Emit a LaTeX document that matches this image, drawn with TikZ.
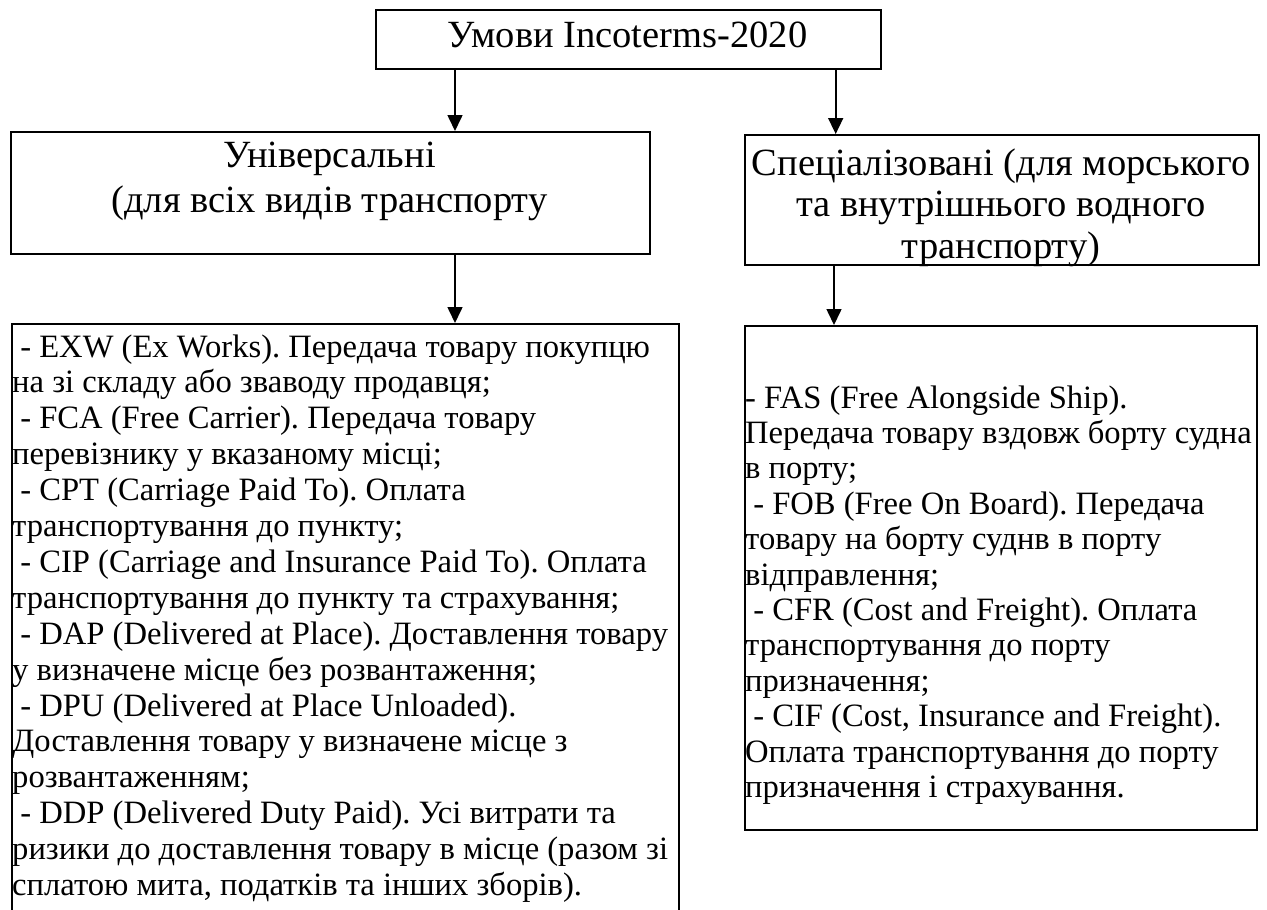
\documentclass[tikz,border=0pt]{standalone}
\usepackage{fontspec}
\setmainfont{Liberation Serif}
\usetikzlibrary{arrows.meta}
\frenchspacing
\newcommand\lsp{\hspace*{0.25em}}
\tikzset{
  box/.style={draw, line width=1.7pt, inner sep=0, anchor=north west},
  head/.style={inner sep=0, anchor=base, font=\fontsize{38.5}{44}\selectfont},
  entry/.style={inner sep=0, anchor=base west, font=\fontsize{32.6}{36}\selectfont},
  arr/.style={line width=1.6pt, -{Triangle[length=16pt, width=15pt]}}
}
\begin{document}
\begin{tikzpicture}[x=1pt, y=-1pt]
  \useasboundingbox (0,0) rectangle (1267,910);
  \fill[white] (0,0) rectangle (1267,910);
  % boxes
  \node[box, minimum width=505pt, minimum height=59pt] (terms) at (375,9) {};
  \node[box, minimum width=639pt, minimum height=122pt] (uni) at (10,131) {};
  \node[box, minimum width=514pt, minimum height=130pt] (spec) at (744,134) {};
  \node[box, minimum width=667pt, minimum height=600pt] (lst) at (11,323) {};
  \node[box, minimum width=512pt, minimum height=504pt] (sea) at (744,325) {};
  % titles
  \node[head] (termsT) at (627.5,47) {Умови Incoterms-2020};
  \node[head] (uniA) at (329.5,167) {Універсальні};
  \node[head] (uniB) at (329.5,212) {(для всіх видів транспорту};
  \node[head] (specA) at (1001,175) {Спеціалізовані (для морського};
  \node[head] (specB) at (1001,216.5) {та внутрішнього водного};
  \node[head] (specC) at (1001,258) {транспорту)};
  % arrows
  \draw[arr] ([xshift=80pt]terms.south west) -- ([xshift=80pt]terms.south west |- uni.north);
  \draw[arr] ([xshift=-46pt]terms.south east) -- ([xshift=-46pt]terms.south east |- spec.north);
  \draw[arr] ([xshift=445pt]uni.south west) -- ([xshift=445pt]uni.south west |- lst.north);
  \draw[arr] ([xshift=90pt]spec.south west) -- ([xshift=90pt]spec.south west |- sea.north);
  % all modes of transport
  \foreach \itm [count=\k from 0] in {
      {\lsp- EXW (Ex Works). Передача товару покупцю},
      {на зі складу або зваводу продавця;},
      {\lsp- FCA (Free Carrier). Передача товару},
      {перевізнику у вказаному місці;},
      {\lsp- CPT (Carriage Paid To). Оплата},
      {транспортування до пункту;},
      {\lsp- CIP (Carriage and Insurance Paid To). Оплата},
      {транспортування до пункту та страхування;},
      {\lsp- DAP (Delivered at Place). Доставлення товару},
      {у визначене місце без розвантаження;},
      {\lsp- DPU (Delivered at Place Unloaded).},
      {Доставлення товару у визначене місце з},
      {розвантаженням;},
      {\lsp- DDP (Delivered Duty Paid). Усі витрати та},
      {ризики до доставлення товару в місце (разом зі},
      {сплатою мита, податків та інших зборів).}}
    \node[entry] (lst\k) at (12,{357+\k*35.9}) {\itm};
  % sea and inland waterway
  \foreach \itm [count=\k from 0] in {
      {- FAS (Free Alongside Ship).},
      {Передача товару вздовж борту судна},
      {в порту;},
      {\lsp- FOB (Free On Board). Передача},
      {товару на борту суднв в порту},
      {відправлення;},
      {\lsp- CFR (Cost and Freight). Оплата},
      {транспортування до порту},
      {призначення;},
      {\lsp- CIF (Cost, Insurance and Freight).},
      {Оплата транспортування до порту},
      {призначення і страхування.}}
    \node[entry] (sea\k) at (745,{408+\k*35.4}) {\itm};
\end{tikzpicture}
\end{document}
